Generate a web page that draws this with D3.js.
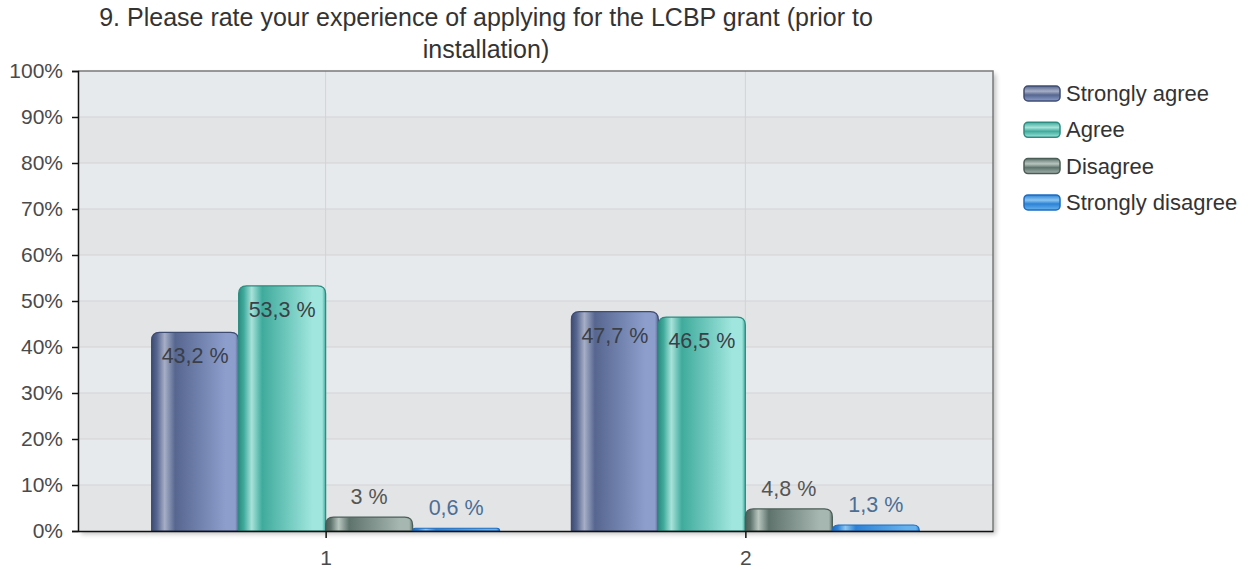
<!DOCTYPE html>
<html><head><meta charset="utf-8">
<script src="https://cdn.jsdelivr.net/npm/d3@7"></script>
<style>body{margin:0;background:#fff;}svg{display:block;font-family:"Liberation Sans",Arial,sans-serif;}</style>
</head><body>
<svg id="chart" width="1250" height="569"></svg>
<script>
const titleLines = ["9. Please rate your experience of applying for the LCBP grant (prior to", "installation)"];
const categories = ["1", "2"];
const seriesNames = ["Strongly agree", "Agree", "Disagree", "Strongly disagree"];
const stronglyAgree = [43.2, 47.7];
const agree = [53.3, 46.5];
const disagree = [3, 4.8];
const stronglyDisagree = [0.6, 1.3];
const yTicks = [0, 10, 20, 30, 40, 50, 60, 70, 80, 90, 100];

const seriesValues = [stronglyAgree, agree, disagree, stronglyDisagree];
const palette = [
  {edge:"#3e4c72", dark:"#56668f", hi:"#a7afc6", light:"#8d9ecd", label:"#333"},
  {edge:"#2c8c80", dark:"#3fab9c", hi:"#a8e2da", light:"#a0e6de", label:"#444"},
  {edge:"#4a5c56", dark:"#5f736d", hi:"#b9c6c0", light:"#a6b6b0", label:"#555"},
  {edge:"#1c6cc0", dark:"#2c82d6", hi:"#8cc6f0", light:"#66b2ee", label:"#4a6f96"}
];

const svg = d3.select("#chart");
const m = {left:78, right:993, top:71, bottom:531};

const defs = svg.append("defs");
palette.forEach((p, i) => {
  const g = defs.append("linearGradient").attr("id", "bar" + i).attr("x1", "0").attr("x2", "1").attr("y1", "0").attr("y2", "0");
  [[0, p.edge], [0.06, p.dark], [0.15, p.hi], [0.27, p.dark], [0.85, p.light], [0.96, p.light], [1, p.dark]].forEach(s =>
    g.append("stop").attr("offset", s[0]).attr("stop-color", s[1]));
  const lg = defs.append("linearGradient").attr("id", "leg" + i).attr("x1", "0").attr("x2", "0").attr("y1", "0").attr("y2", "1");
  [[0, p.dark], [0.35, p.hi], [0.6, p.dark], [1, p.light]].forEach(s =>
    lg.append("stop").attr("offset", s[0]).attr("stop-color", s[1]));
});
const sh = defs.append("filter").attr("id", "shadow").attr("x", "-5%").attr("y", "-5%").attr("width", "115%").attr("height", "115%");
sh.append("feGaussianBlur").attr("in", "SourceAlpha").attr("stdDeviation", 2.5).attr("result", "b");
sh.append("feOffset").attr("dx", 3).attr("dy", 3).attr("result", "o");
sh.append("feComponentTransfer").append("feFuncA").attr("type", "linear").attr("slope", 0.25);
const fm = sh.append("feMerge"); fm.append("feMergeNode"); fm.append("feMergeNode").attr("in", "SourceGraphic");

const y = d3.scaleLinear().domain([0, 100]).range([m.bottom, m.top]);
const x = d3.scalePoint().domain(categories).range([m.left, m.right]).padding(0.59);
const x1 = d3.scaleBand().domain(d3.range(seriesNames.length)).range([-174, 174]).paddingInner(0);

// plot background with shadow
svg.append("rect").attr("x", m.left).attr("y", m.top).attr("width", m.right - m.left).attr("height", m.bottom - m.top)
  .attr("fill", "#e6e9ec").attr("filter", "url(#shadow)");
// alternating bands
const bands = yTicks.slice(0, -1).map((t, i) => [t, yTicks[i + 1]]);
svg.append("g").selectAll("rect").data(bands).join("rect")
  .attr("x", m.left).attr("width", m.right - m.left)
  .attr("y", d => y(d[1])).attr("height", d => y(d[0]) - y(d[1]))
  .attr("fill", (d, i) => i % 2 === 0 ? "#e3e4e6" : "#e7eaed");
// gridlines
svg.append("g").selectAll("line").data(yTicks.slice(1, -1)).join("line")
  .attr("x1", m.left).attr("x2", m.right).attr("y1", d => y(d)).attr("y2", d => y(d))
  .attr("stroke", "#d2d3d5").attr("stroke-width", 1);
svg.append("g").selectAll("line").data(categories).join("line")
  .attr("x1", d => x(d)).attr("x2", d => x(d)).attr("y1", m.top).attr("y2", m.bottom)
  .attr("stroke", "#d2d3d5").attr("stroke-width", 1);
// border top/right
svg.append("path").attr("d", `M${m.left},${m.top}H${m.right}V${m.bottom}`)
  .attr("fill", "none").attr("stroke", "#7a7a7a").attr("stroke-width", 1.5);

// bars
function barPath(bx, by, w, h) {
  const r = Math.min(8, h, w / 2);
  const y0 = by + h;
  return `M${bx},${y0}V${by + r}Q${bx},${by} ${bx + r},${by}H${bx + w - r}Q${bx + w},${by} ${bx + w},${by + r}V${y0}Z`;
}
const barData = [];
categories.forEach((c, ci) => seriesValues.forEach((vals, si) => barData.push({c, si, v: vals[ci]})));
const gBars = svg.append("g");
gBars.selectAll("path").data(barData).join("path")
  .attr("d", d => barPath(x(d.c) + x1(d.si), y(d.v), x1.bandwidth(), y(0) - y(d.v)))
  .attr("fill", d => `url(#bar${d.si})`)
  .attr("stroke", d => palette[d.si].edge).attr("stroke-width", 1.2);

const fmt = v => String(v).replace(".", ",") + " %";
svg.append("g").selectAll("text").data(barData).join("text")
  .attr("x", d => x(d.c) + x1(d.si) + x1.bandwidth() / 2)
  .attr("y", d => (y(0) - y(d.v)) > 40 ? y(d.v) + 31 : y(d.v) - 13)
  .attr("text-anchor", "middle").attr("font-size", 21.5)
  .attr("fill", d => (y(0) - y(d.v)) > 40 ? "#3a3f48" : palette[d.si].label)
  .text(d => fmt(d.v));

// axes
const yAxis = svg.append("g").attr("transform", `translate(${m.left},0)`)
  .call(d3.axisLeft(y).tickValues(yTicks).tickFormat(d => d + "%").tickSize(6).tickPadding(9));
yAxis.select(".domain").attr("stroke", "#111").attr("stroke-width", 1.5);
yAxis.selectAll(".tick line").attr("stroke", "#111").attr("stroke-width", 1.5);
yAxis.selectAll("text").attr("font-size", 21).attr("fill", "#4a4a4a").attr("font-family", "Liberation Sans, Arial, sans-serif");

const xAxis = svg.append("g").attr("transform", `translate(0,${m.bottom})`)
  .call(d3.axisBottom(x).tickSize(7).tickPadding(12).tickSizeOuter(0));
xAxis.select(".domain").attr("stroke", "#111").attr("stroke-width", 1.5);
xAxis.selectAll(".tick line").attr("stroke", "#111").attr("stroke-width", 1.5);
xAxis.selectAll("text").attr("font-size", 21).attr("fill", "#4a4a4a").attr("font-family", "Liberation Sans, Arial, sans-serif");

// title
svg.append("g").selectAll("text").data(titleLines).join("text")
  .attr("x", 486).attr("y", (d, i) => 26 + i * 32)
  .attr("text-anchor", "middle").attr("font-size", 25).attr("fill", "#333")
  .text(d => d);

// legend
const leg = svg.append("g").attr("transform", "translate(1024,86)");
const li = leg.selectAll("g").data(seriesNames).join("g").attr("transform", (d, i) => `translate(0,${i * 36.3})`);
li.append("rect").attr("width", 36).attr("height", 15).attr("rx", 4)
  .attr("fill", (d, i) => `url(#leg${i})`).attr("stroke", (d, i) => palette[i].edge).attr("stroke-width", 1.5);
li.append("text").attr("x", 42).attr("y", 15).attr("font-size", 22).attr("fill", "#333").text(d => d);
</script>
</body></html>
